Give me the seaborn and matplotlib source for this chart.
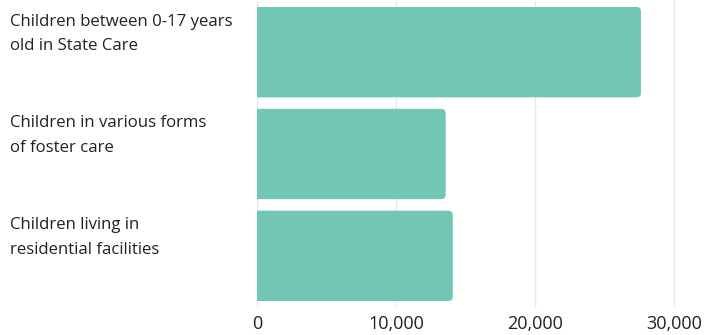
import matplotlib
matplotlib.use("Agg")
import matplotlib.pyplot as plt
from matplotlib.patches import FancyBboxPatch
import matplotlib.transforms as mtransforms
import seaborn as sns
import pandas as pd

categories = [
    "Children between 0-17 years\nold in State Care",
    "Children in various forms\nof foster care",
    "Children living in\nresidential facilities",
]
values = [27600, 13550, 14060]
xticks = [0, 10000, 20000, 30000]
xtick_labels = ["0", "10,000", "20,000", "30,000"]

sns.set_theme(style="white")
plt.rcParams["font.family"] = ["Open Sans", "DejaVu Sans"]

df = pd.DataFrame({"category": categories, "value": values})

fig = plt.figure(figsize=(7.04, 3.35), dpi=100)
ax = fig.add_axes([257.3 / 704, 1 - 306.75 / 335, (681.3 - 257.3) / 704, 305.5 / 335])

bar_color = "#71C7B3"
sns.barplot(data=df, x="value", y="category", orient="h", color=bar_color,
            width=0.887, saturation=1, ax=ax, zorder=2)

ax.set_xlim(0, 30500)
ax.set_xticks(xticks)
ax.set_xticklabels(xtick_labels, fontsize=13, color="#222222")
ax.tick_params(axis="x", length=0, pad=6)
ax.xaxis.grid(True, color="#e8e8e8", linewidth=1, zorder=0)
ax.set_axisbelow(True)
for s in ax.spines.values():
    s.set_visible(False)
ax.set_xlabel("")
ax.set_ylabel("")
ax.set_yticklabels([])
ax.tick_params(axis="y", length=0)

# round bar corners
x_per_px = 30500 / (681.3 - 257.3)
y_per_px = 3.0 / 305.5
r = 4.5 * x_per_px
for p in list(ax.patches):
    x, y = p.get_x(), p.get_y()
    w, h = p.get_width(), p.get_height()
    p.set_visible(False)
    fb = FancyBboxPatch((x - r, y), w + r, h,
                        boxstyle=f"round,pad=0,rounding_size={r}",
                        mutation_aspect=y_per_px / x_per_px,
                        facecolor=bar_color, edgecolor="none", zorder=2)
    ax.add_patch(fb)

trans = mtransforms.blended_transform_factory(fig.transFigure, ax.transData)
for i, lab in enumerate(categories):
    ax.text(10 / 704, i - 0.887 / 2 + 0.065, lab, transform=trans, ha="left", va="top",
            fontsize=12.1, color="#222222", linespacing=1.72)

fig.savefig("out.png", dpi=100)
